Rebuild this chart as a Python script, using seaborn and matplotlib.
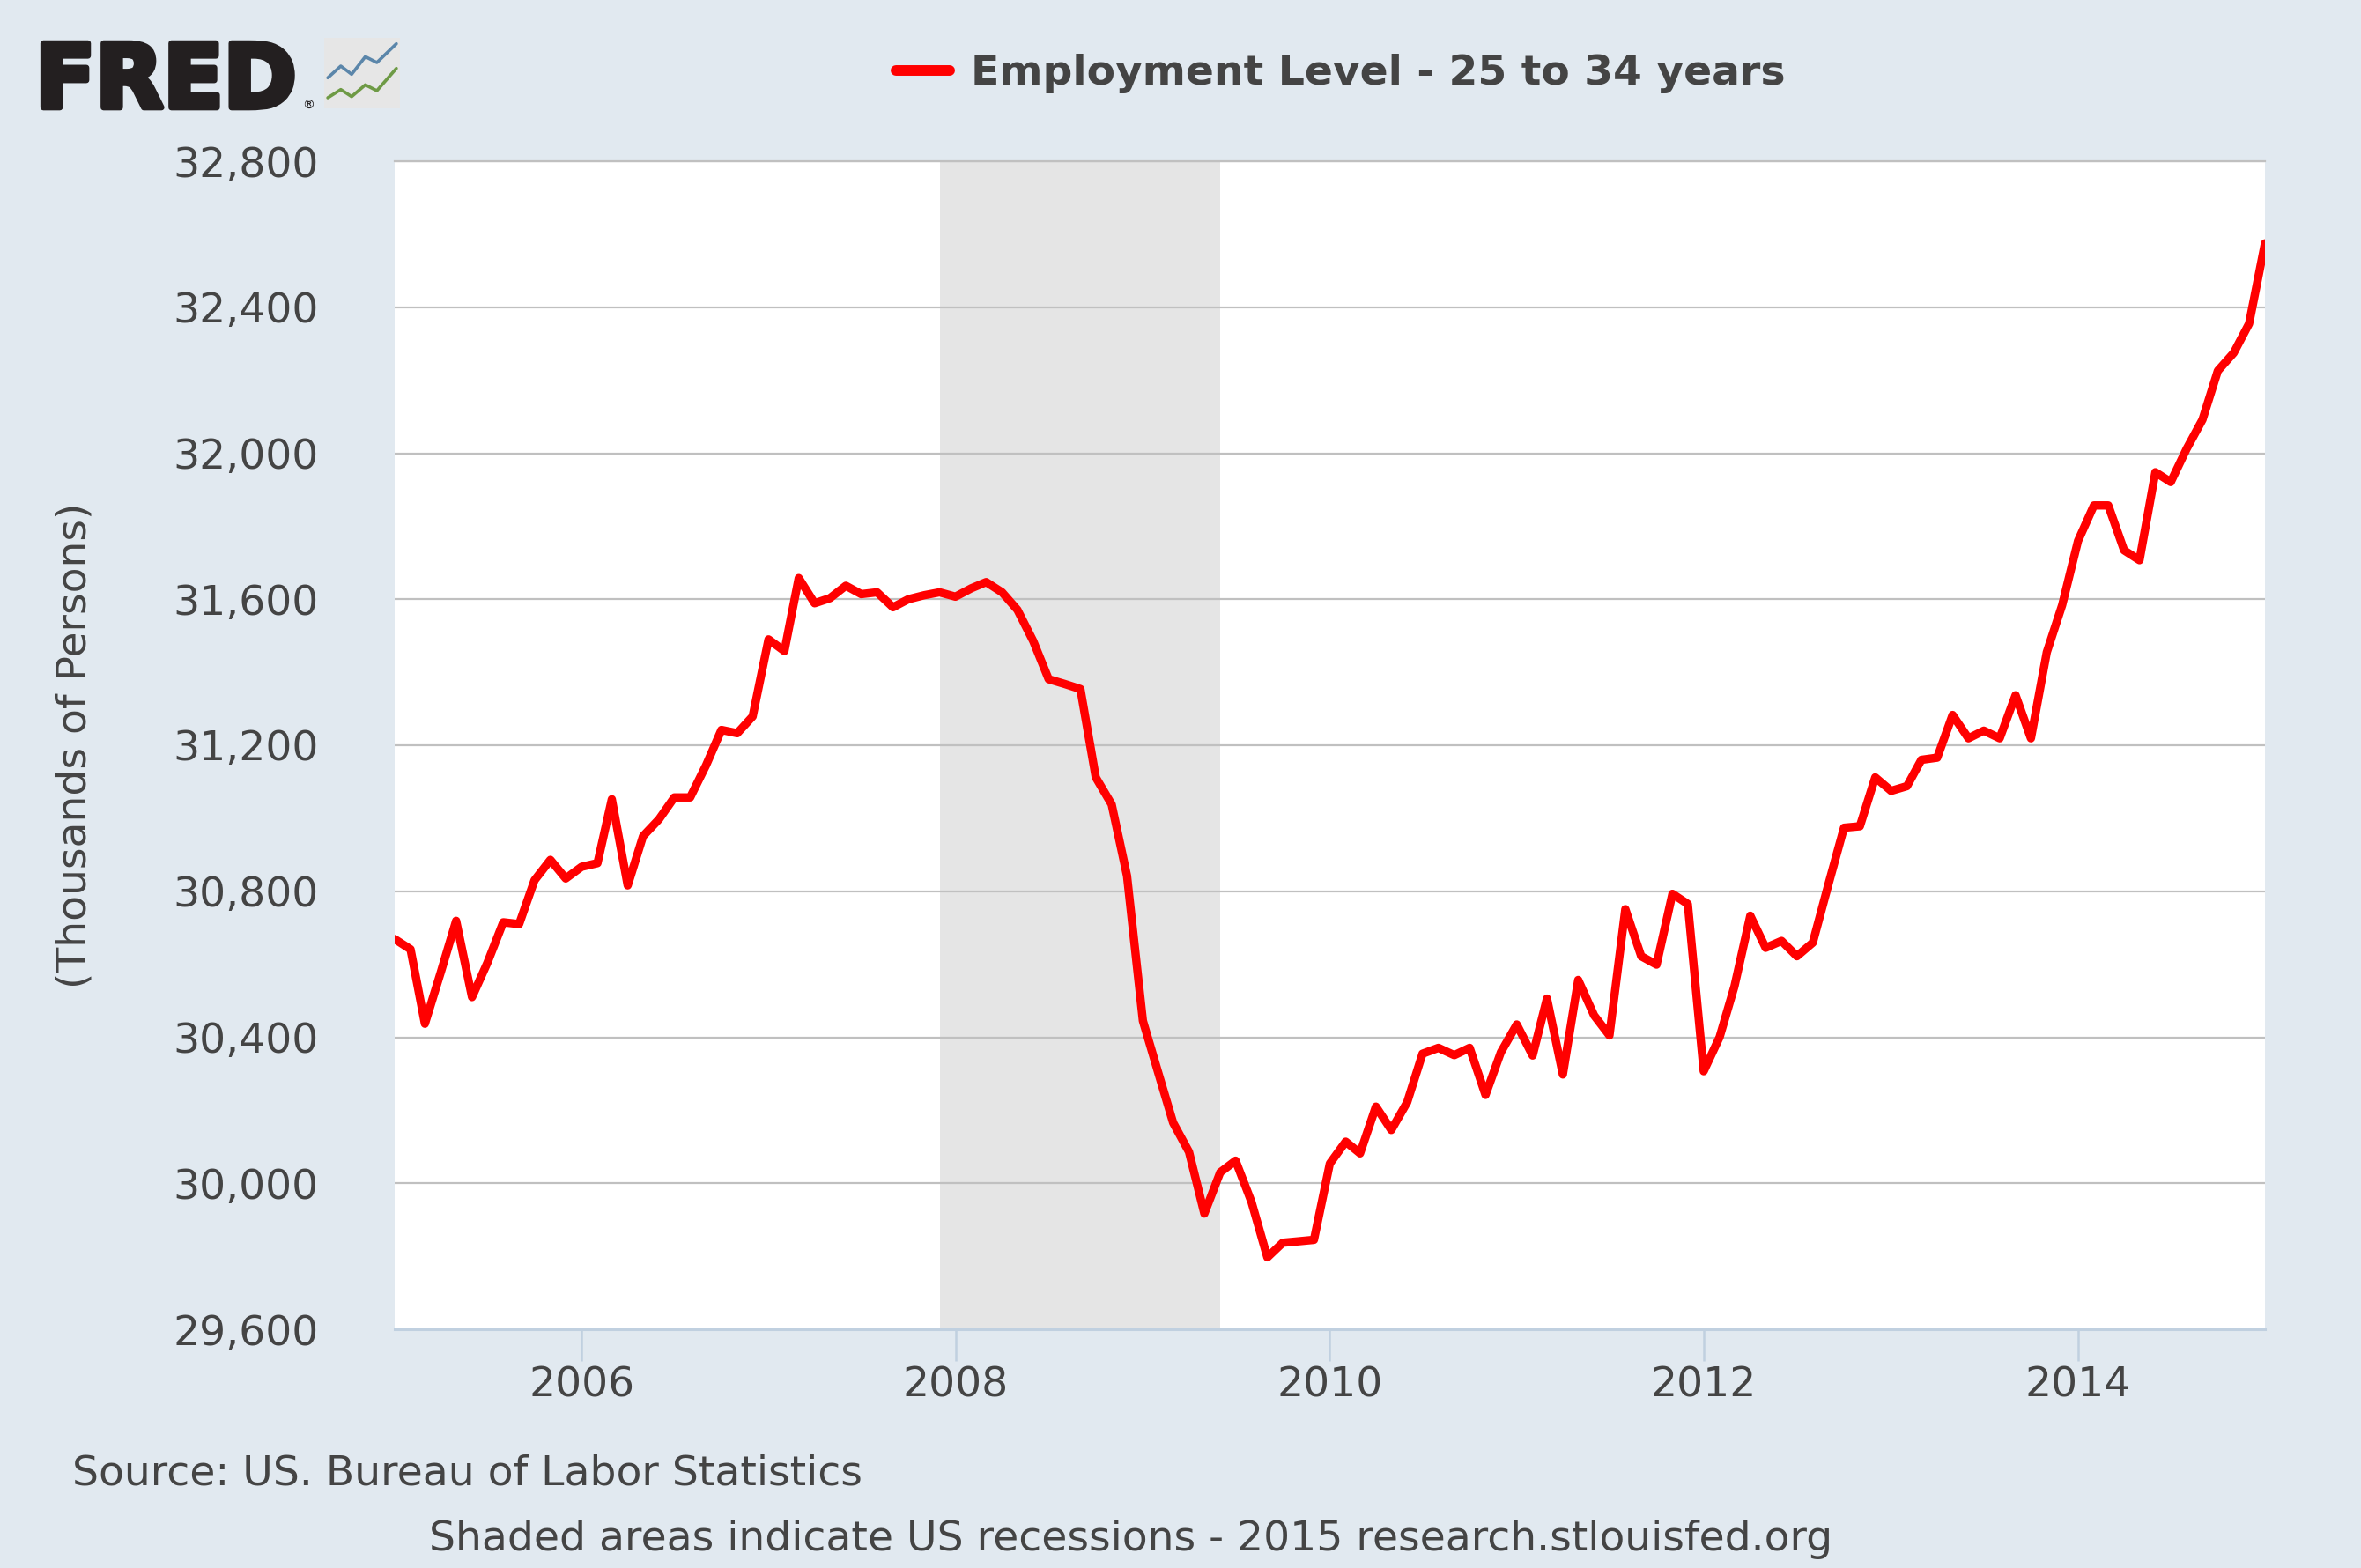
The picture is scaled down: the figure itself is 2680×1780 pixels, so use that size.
import numpy as np
import pandas as pd
import matplotlib
matplotlib.use("Agg")
import matplotlib.pyplot as plt
import matplotlib.ticker as mticker
import matplotlib.patheffects as pe
import seaborn as sns

# ---------------- data ----------------
start_month = "2005-01-01"
employment = [
    30669, 30641, 30437, 30578, 30719, 30510, 30604, 30715, 30710, 30830, 30886, 30835,  # 2005
    30867, 30877, 31052, 30816, 30951, 30997, 31057, 31057, 31145, 31242, 31233, 31279,  # 2006
    31490, 31458, 31658, 31589, 31603, 31637, 31614, 31619, 31578, 31600, 31611, 31619,  # 2007
    31607, 31630, 31647, 31619, 31571, 31485, 31381, 31368, 31354, 31112, 31038, 30842,  # 2008
    30445, 30298, 30166, 30086, 29917, 30030, 30062, 29949, 29797, 29837, 29841, 29845,  # 2009
    30054, 30114, 30082, 30210, 30146, 30222, 30355, 30371, 30351, 30371, 30242, 30359,  # 2010
    30435, 30350, 30506, 30298, 30557, 30460, 30405, 30751, 30622, 30599, 30793, 30765,  # 2011
    30307, 30400, 30539, 30733, 30645, 30664, 30622, 30659, 30821, 30974, 30978, 31112,  # 2012
    31075, 31088, 31160, 31166, 31283, 31219, 31240, 31219, 31337, 31219, 31455, 31584,  # 2013
    31760, 31857, 31857, 31734, 31707, 31948, 31921, 32012, 32092, 32226, 32275, 32355,  # 2014
    32575,                                                                              # 2015
]
recession_start = "2007-12-01"
recession_end = "2009-06-01"
y_ticks = [29600, 30000, 30400, 30800, 31200, 31600, 32000, 32400, 32800]
x_tick_years = [2006, 2008, 2010, 2012, 2014]
x_limits = ["2005-01-01", "2015-01-01"]

series_label = "Employment Level - 25 to 34 years"
y_label = "(Thousands of Persons)"
source_text = "Source: US. Bureau of Labor Statistics"
footer_text = "Shaded areas indicate US recessions - 2015 research.stlouisfed.org"
logo_text = "FRED"
logo_x = [0.0, 0.18, 0.33, 0.52, 0.68, 0.95]
logo_blue = [0.42, 0.62, 0.48, 0.78, 0.68, 1.0]
logo_green = [0.08, 0.22, 0.10, 0.30, 0.20, 0.58]

# ---------------- style ----------------
sns.set_theme(style="white")
plt.rcParams["font.family"] = ["DejaVu Sans"]

BG = "#E1E9F0"
TXT = "#444444"
W, H = 2680, 1780
DPI = 200

fig = plt.figure(figsize=(W / DPI, H / DPI), dpi=DPI, facecolor=BG)
ax = fig.add_axes([448 / W, 1 - 1509 / H, (2571 - 448) / W, (1509 - 183) / H])
ax.set_facecolor("white")

df = pd.DataFrame({
    "date": pd.date_range(start_month, periods=len(employment), freq="MS"),
    "value": employment,
})

ax.axvspan(pd.Timestamp(recession_start), pd.Timestamp(recession_end),
           color="#E5E5E5", zorder=0, lw=0)

sns.lineplot(data=df, x="date", y="value", ax=ax, color="#FF0000",
             linewidth=3.4, label=series_label, legend=False, zorder=3)

ax.set_xlim(pd.Timestamp(x_limits[0]), pd.Timestamp(x_limits[1]))
ax.set_ylim(y_ticks[0], y_ticks[-1])
ax.set_yticks(y_ticks)
ax.yaxis.set_major_formatter(mticker.FuncFormatter(lambda v, p: f"{v:,.0f}"))
ax.set_xticks([pd.Timestamp(f"{y}-01-01") for y in x_tick_years])
ax.set_xticklabels([str(y) for y in x_tick_years])

ax.yaxis.grid(True, color="#C0C0C0", linewidth=0.8)
ax.xaxis.grid(False)
ax.set_axisbelow(True)

for s in ["left", "right"]:
    ax.spines[s].set_visible(False)
ax.spines["top"].set_color("#C0C0C0")
ax.spines["top"].set_linewidth(0.8)
ax.spines["bottom"].set_color("#C0D0E0")
ax.spines["bottom"].set_linewidth(1.1)

ax.tick_params(axis="y", length=0, pad=31, labelsize=17, labelcolor=TXT)
ax.tick_params(axis="x", direction="out", length=13, width=0.9, color="#C0D0E0",
               pad=2, labelsize=17, labelcolor=TXT, bottom=True)
ax.set_xlabel("")
ax.set_ylabel("")

fig.text(85 / W, 1 - 846 / H, y_label, rotation=90, ha="center", va="center",
         fontsize=17, color=TXT)

# legend / title
handles, labels = ax.get_legend_handles_labels()
leg = fig.legend(handles, labels, loc="center left",
                 bbox_to_anchor=(1017 / W, 1 - 84 / H), frameon=False,
                 prop={"weight": "bold", "size": 17}, handlelength=1.3,
                 handletextpad=0.5, borderpad=0, borderaxespad=0)
for t in leg.get_texts():
    t.set_color(TXT)
for h in leg.legend_handles:
    h.set_linewidth(4.3)

# footer
fig.text(82 / W, 1 - 1685 / H, source_text, ha="left", va="baseline",
         fontsize=17, color=TXT)
fig.text(487 / W, 1 - 1760 / H, footer_text, ha="left", va="baseline",
         fontsize=17, color=TXT)

# FRED logo
fig.text(40 / W, 1 - 122 / H, logo_text, ha="left", va="baseline", fontsize=36,
         fontweight="bold", color="#231F20",
         path_effects=[pe.withStroke(linewidth=2.4, foreground="#231F20")])
fig.text(350 / W, 1 - 124 / H, "\u00ae", ha="center", va="baseline", fontsize=5,
         color="#231F20")
icon = fig.add_axes([368 / W, 1 - 123 / H, 86 / W, 80 / H])
icon.set_facecolor("#E6E6E6")
icon.plot(logo_x, logo_blue, color="#5B86AA", lw=1.3)
icon.plot(logo_x, logo_green, color="#6E9A45", lw=1.3)
icon.set_xlim(-0.05, 1.0)
icon.set_ylim(-0.1, 1.1)
icon.set_xticks([])
icon.set_yticks([])
for s in icon.spines.values():
    s.set_visible(False)

fig.savefig("out.png", dpi=DPI, facecolor=BG)
